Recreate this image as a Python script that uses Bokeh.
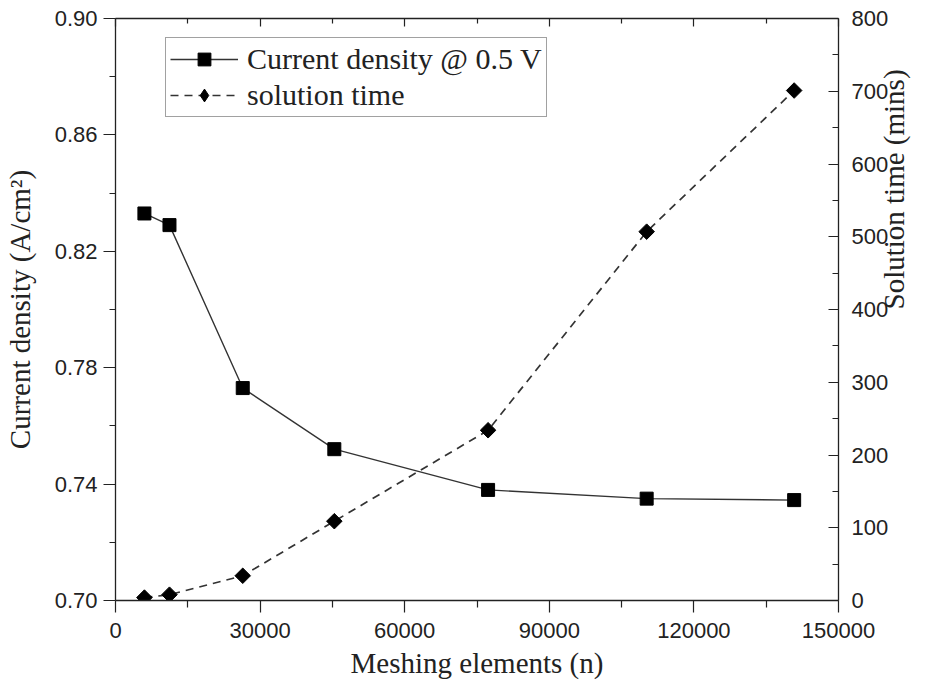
import math
from bokeh.plotting import figure
from bokeh.models import (Range1d, LinearAxis, FixedTicker, PrintfTickFormatter,
                          BasicTickFormatter, Legend, LegendItem)
from bokeh.embed import file_html
from bokeh.resources import INLINE

# ---- data ----
elements = [6000, 11200, 26400, 45400, 77300, 110200, 140800]
current_density = [0.833, 0.829, 0.773, 0.752, 0.738, 0.735, 0.7345]
solution_time = [4, 8, 34, 109, 234, 507, 701]

x_ticks = [0, 30000, 60000, 90000, 120000, 150000]
x_minor = [15000, 45000, 75000, 105000, 135000]
y_ticks = [0.70, 0.74, 0.78, 0.82, 0.86, 0.90]
y_minor = [0.72, 0.76, 0.80, 0.84, 0.88]
t_ticks = [0, 100, 200, 300, 400, 500, 600, 700, 800]
t_minor = [50, 150, 250, 350, 450, 550, 650, 750]

SERIF = "Liberation Serif"
SANS = "Liberation Sans"
INK = "#222222"

p = figure(width=931, height=687, output_backend="svg", toolbar_location=None,
           x_range=Range1d(0, 150000), y_range=Range1d(0.70, 0.90),
           min_border_left=115, min_border_right=93, min_border_top=18,
           min_border_bottom=87)
p.extra_y_ranges = {"time": Range1d(0, 800)}
p.grid.visible = False
p.outline_line_color = None
p.background_fill_color = "white"
p.border_fill_color = "white"

def style_axis(ax, tin, tout, min_in, min_out):
    ax.axis_line_color = INK
    ax.axis_line_width = 1.3
    ax.major_tick_line_color = INK
    ax.minor_tick_line_color = INK
    ax.major_tick_line_width = 1.2
    ax.minor_tick_line_width = 1.2
    ax.major_tick_in = tin
    ax.major_tick_out = tout
    ax.minor_tick_in = min_in
    ax.minor_tick_out = min_out
    ax.major_label_text_font = SANS
    ax.major_label_text_font_size = "22px"
    ax.major_label_text_color = INK
    ax.axis_label_text_font = SERIF
    ax.axis_label_text_font_size = "29px"
    ax.axis_label_text_font_style = "normal"
    ax.axis_label_text_color = INK

# bottom axis
xa = p.xaxis[0]
xa.ticker = FixedTicker(ticks=x_ticks, minor_ticks=x_minor)
xa.formatter = BasicTickFormatter(use_scientific=False)
xa.axis_label = "Meshing elements (n)"
style_axis(xa, 0, 12, 0, 7)
xa.major_label_standoff = 10
xa.axis_label_standoff = 6

# left axis
ya = p.yaxis[0]
ya.ticker = FixedTicker(ticks=y_ticks, minor_ticks=y_minor)
ya.formatter = PrintfTickFormatter(format="%.2f")
ya.axis_label = "Current density (A/cm\u00b2)"
style_axis(ya, 0, 12, 0, 6)
ya.major_label_standoff = 6
ya.axis_label_standoff = 16

# top axis (ticks only, no labels)
ta = LinearAxis(ticker=FixedTicker(ticks=x_ticks, minor_ticks=x_minor))
style_axis(ta, 8, 0, 5, 0)
ta.major_label_text_font_size = "0px"
ta.major_label_text_color = None
ta.major_label_standoff = 0
p.add_layout(ta, "above")

# right axis (title reads bottom-to-top)
ra = LinearAxis(y_range_name="time", ticker=FixedTicker(ticks=t_ticks, minor_ticks=t_minor))
style_axis(ra, 10, 0, 6, 0)
ra.major_label_standoff = 13
ra.axis_label = "Solution time (mins)"
ra.axis_label_orientation = math.pi / 2
ra.axis_label_standoff = 3
p.add_layout(ra, "right")

# series
l1 = p.line(elements, current_density, line_color="#333333", line_width=1.4)
m1 = p.scatter(elements, current_density, marker="square", size=13,
               fill_color="black", line_color="black")
l2 = p.line(elements, solution_time, y_range_name="time", line_color="#333333",
            line_width=1.7, line_dash="8 6")
# diamond marker used for the legend entry (hidden beneath the plotted diamonds)
dk = p.scatter(elements, solution_time, y_range_name="time", marker="diamond",
               size=12, fill_color="black", line_color="black")
m2 = p.scatter(elements, solution_time, y_range_name="time", marker="square",
               angle=math.pi / 4, size=11, fill_color="black", line_color="black")

legend = Legend(items=[
    LegendItem(label="Current density @ 0.5 V", renderers=[l1, m1]),
    LegendItem(label="solution time", renderers=[l2, dk]),
], location=(50, 483))
legend.label_text_font = SERIF
legend.label_text_font_size = "30px"
legend.label_text_color = INK
legend.glyph_width = 68
legend.glyph_height = 32
legend.label_height = 30
legend.label_standoff = 9
legend.spacing = 2
legend.padding = 4
legend.margin = 0
legend.border_line_color = "#444444"
legend.border_line_width = 1.2
legend.background_fill_alpha = 1.0
p.add_layout(legend, "center")

open("out.html", "w").write(file_html(p, INLINE))
